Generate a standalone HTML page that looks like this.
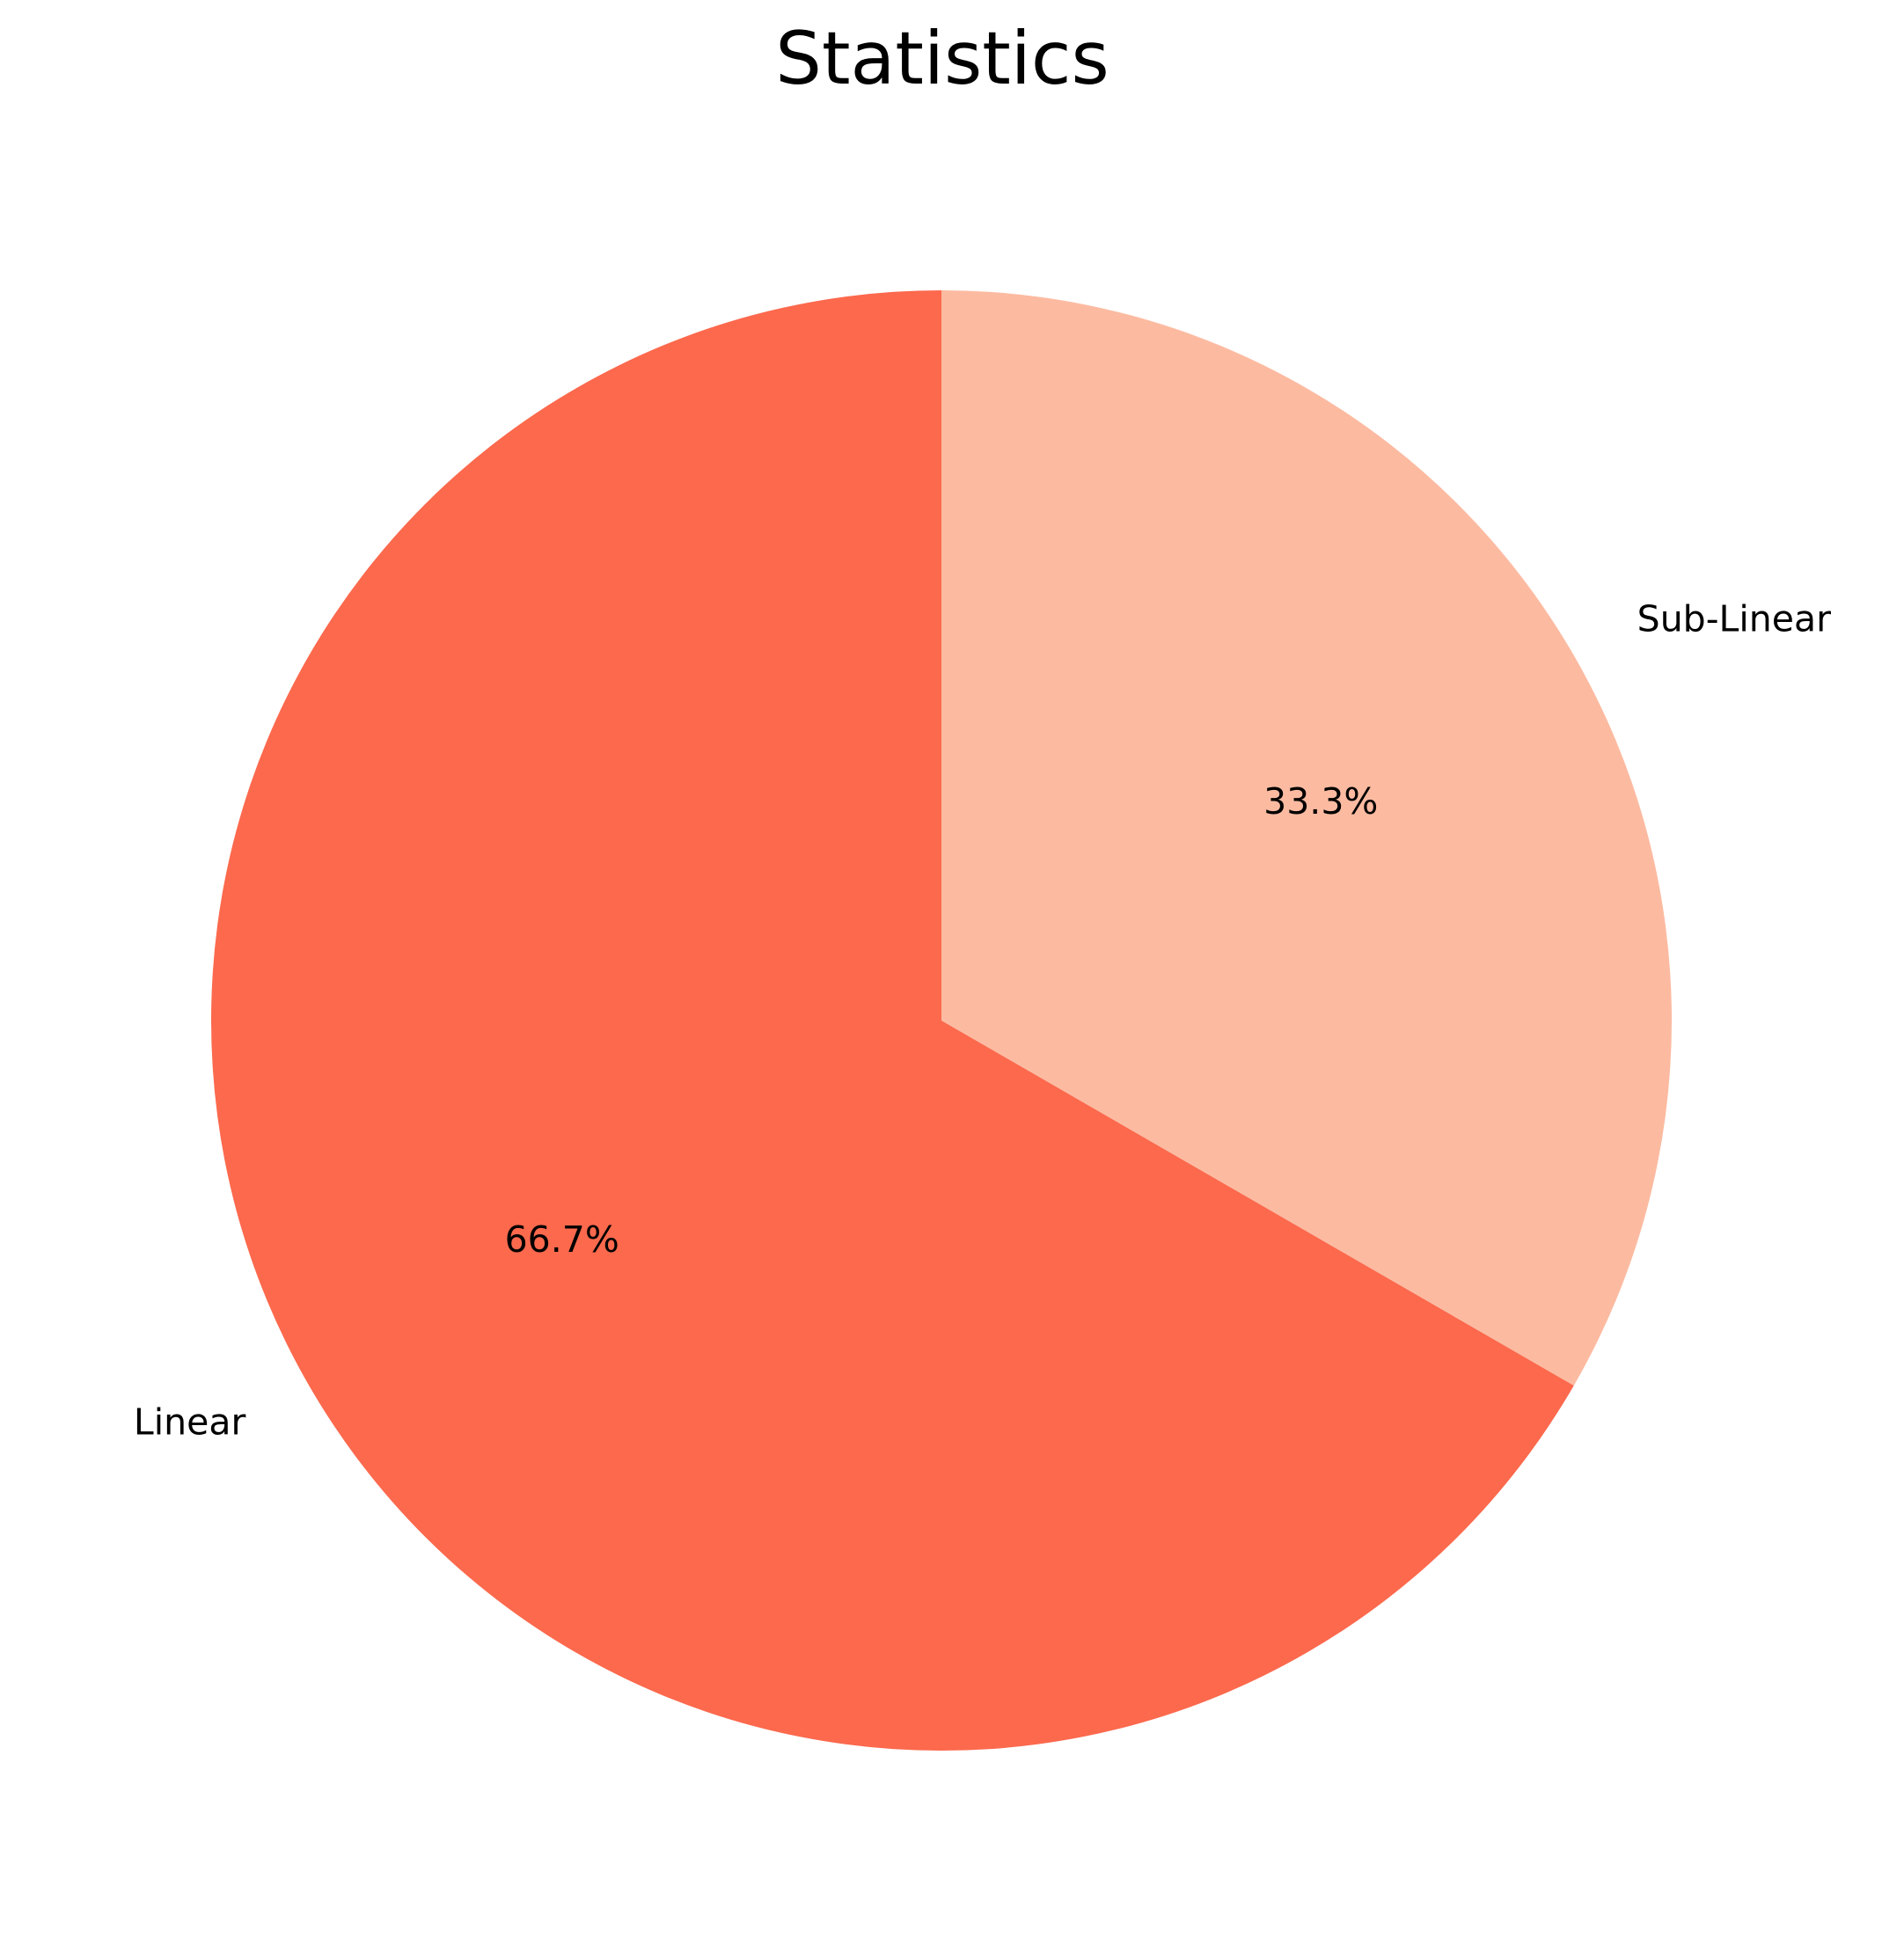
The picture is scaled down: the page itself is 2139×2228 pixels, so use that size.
<!DOCTYPE html>
<html><head><meta charset="utf-8"><style>
html,body{margin:0;padding:0;background:#fff;}
svg{display:block;font-family:"DejaVu Sans","Liberation Sans",sans-serif;}
</style></head><body>
<svg id="chart" width="2139" height="2228" viewBox="0 0 2139 2228">
<rect width="2139" height="2228" fill="#fff"/>
<text x="1071" y="95" font-size="83" text-anchor="middle" fill="#000">Statistics</text>
<g id="slices"></g>
</svg>
<script>
const categories = ["Linear", "Sub-Linear"];
const values = [2, 1];
const colors = ["#fc694d", "#fcbba1"];
const cx = 1070, cy = 1160, R = 830;
const svg = document.getElementById('slices');
const NS = 'http://www.w3.org/2000/svg';
const total = values.reduce((a, b) => a + b, 0);
let start = 90;
function pt(deg, r) { const a = deg * Math.PI / 180; return [cx + r * Math.cos(a), cy - r * Math.sin(a)]; }
values.forEach((v, i) => {
  const sweep = v / total * 360;
  const end = start + sweep;
  const [x1, y1] = pt(start, R), [x2, y2] = pt(end, R);
  const large = sweep > 180 ? 1 : 0;
  const p = document.createElementNS(NS, 'path');
  p.setAttribute('d', `M${cx},${cy} L${x1},${y1} A${R},${R} 0 ${large} 0 ${x2},${y2} Z`);
  p.setAttribute('fill', colors[i]);
  
  
  svg.appendChild(p);
  const mid = start + sweep / 2;
  const [lx, ly] = pt(mid, R * 1.1);
  const t = document.createElementNS(NS, 'text');
  t.setAttribute('x', lx); t.setAttribute('y', ly + 14);
  t.setAttribute('font-size', '41');
  t.setAttribute('text-anchor', Math.cos(mid * Math.PI / 180) < 0 ? 'end' : 'start');
  t.textContent = categories[i];
  
  
  svg.appendChild(t);
  const [px, py] = pt(mid, R * 0.6);
  const q = document.createElementNS(NS, 'text');
  q.setAttribute('x', px); q.setAttribute('y', py + 14);
  q.setAttribute('font-size', '41');
  q.setAttribute('text-anchor', 'middle');
  q.textContent = (v / total * 100).toFixed(1) + '%';
  
  
  svg.appendChild(q);
  start = end;
});
</script>
</body></html>
